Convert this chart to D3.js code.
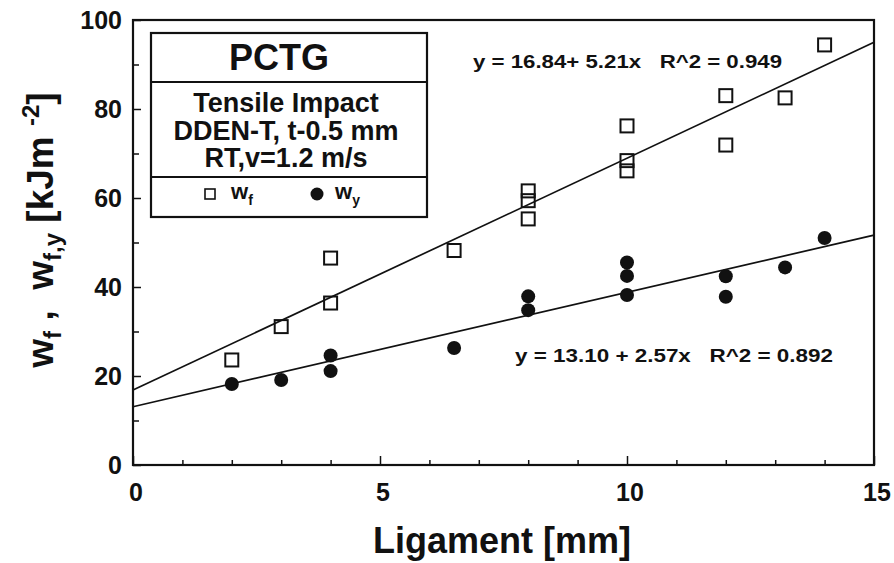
<!DOCTYPE html>
<html>
<head>
<meta charset="utf-8">
<script src="https://cdn.jsdelivr.net/npm/d3@7"></script>
<style>
  body { margin: 0; background: #fff; }
  text { font-family: "Liberation Sans", Arial, sans-serif; font-weight: bold; fill: #111; }
</style>
</head>
<body>
<script>
// data
var ligF = [2, 3, 4, 4, 6.5, 8, 8, 8, 10, 10, 10, 12, 12, 13.2, 14];
var wf = [23.6, 31.1, 46.5, 36.4, 48.2, 61.6, 59.4, 55.3, 76.2, 68.4, 66.1, 83.0, 71.9, 82.5, 94.4];
var ligY = [2, 3, 4, 4, 6.5, 8, 8, 10, 10, 10, 12, 12, 13.2, 14];
var wy = [18.2, 19.1, 24.6, 21.1, 26.3, 37.9, 34.8, 45.5, 42.5, 38.2, 42.4, 37.8, 44.4, 51.0];
var fitF = [16.84, 5.21];
var fitY = [13.10, 2.57];
var xTicks = [0, 5, 10, 15];
var yTicks = [0, 20, 40, 60, 80, 100];
var legendLines = ['Tensile Impact', 'DDEN-T, t-0.5 mm', 'RT,v=1.2 m/s'];

var W = 894, H = 563;
var mLeft = 133, mRight = 874, mTop = 20, mBottom = 465;

var svg = d3.select('body').append('svg')
    .attr('width', W).attr('height', H);
svg.append('rect').attr('width', W).attr('height', H).attr('fill', '#fff');

var x = d3.scaleLinear().domain([0, 15]).range([mLeft, mRight]);
var y = d3.scaleLinear().domain([0, 100]).range([mBottom, mTop]);

// inner ticks
var gx = svg.append('g').attr('transform', `translate(0,${mBottom})`)
    .call(d3.axisTop(x).tickValues(d3.range(0, 16)).tickSize(5).tickFormat(''));
gx.selectAll('.tick line').filter(d => d % 5 === 0).attr('y2', -9);
var gy = svg.append('g').attr('transform', `translate(${mLeft},0)`)
    .call(d3.axisRight(y).tickValues(d3.range(0, 101, 10)).tickSize(6).tickFormat(''));
gy.selectAll('.tick line').filter(d => d % 20 === 0).attr('x2', 8);
svg.selectAll('.domain').remove();
svg.selectAll('.tick line').attr('stroke', '#111').attr('stroke-width', 1.5);

// tick labels
svg.selectAll('.xl').data(xTicks).enter().append('text')
    .attr('x', d => x(d) + 3).attr('y', 501)
    .attr('text-anchor', 'middle').attr('font-size', 25)
    .text(d => d);
svg.selectAll('.yl').data(yTicks).enter().append('text')
    .attr('x', 122).attr('y', d => y(d) + 9)
    .attr('text-anchor', 'end').attr('font-size', 25)
    .text(d => d);

// frame
svg.append('rect').attr('x', mLeft).attr('y', mTop)
    .attr('width', mRight - mLeft).attr('height', mBottom - mTop)
    .attr('fill', 'none').attr('stroke', '#111').attr('stroke-width', 2.2);

// fit lines
[fitF, fitY].forEach(function (f) {
    svg.append('line')
        .attr('x1', x(0)).attr('y1', y(f[0]))
        .attr('x2', x(15)).attr('y2', y(f[0] + f[1] * 15))
        .attr('stroke', '#111').attr('stroke-width', 1.7);
});

// points
svg.selectAll('.sq').data(ligF).enter().append('rect')
    .attr('x', (d, i) => x(d) - 6.5).attr('y', (d, i) => y(wf[i]) - 6.5)
    .attr('width', 13).attr('height', 13)
    .attr('fill', 'none').attr('stroke', '#111').attr('stroke-width', 2);
svg.selectAll('.dot').data(ligY).enter().append('circle')
    .attr('cx', d => x(d)).attr('cy', (d, i) => y(wy[i]))
    .attr('r', 7).attr('fill', '#111');

// equations
svg.append('text').attr('x', 473).attr('y', 68).attr('font-size', 19)
    .attr('textLength', 309).attr('lengthAdjust', 'spacingAndGlyphs')
    .attr('xml:space', 'preserve')
    .text('y = 16.84+ 5.21x   R^2 = 0.949');
svg.append('text').attr('x', 515).attr('y', 362).attr('font-size', 19)
    .attr('textLength', 318).attr('lengthAdjust', 'spacingAndGlyphs')
    .attr('xml:space', 'preserve')
    .text('y = 13.10 + 2.57x   R^2 = 0.892');

// legend box
var lg = svg.append('g');
lg.append('rect').attr('x', 151).attr('y', 33).attr('width', 276).attr('height', 184)
    .attr('fill', '#fff').attr('stroke', '#111').attr('stroke-width', 2.2);
[82, 177].forEach(function (yy) {
    lg.append('line').attr('x1', 151).attr('x2', 427).attr('y1', yy).attr('y2', yy)
        .attr('stroke', '#111').attr('stroke-width', 1.8);
});
lg.append('text').attr('x', 279).attr('y', 70).attr('text-anchor', 'middle')
    .attr('font-size', 36).text('PCTG');
lg.selectAll('.ll').data(legendLines).enter().append('text')
    .attr('x', 286).attr('y', (d, i) => 112 + i * 27.5)
    .attr('text-anchor', 'middle').attr('font-size', 27)
    .text(d => d);
lg.append('rect').attr('x', 205).attr('y', 189).attr('width', 10).attr('height', 10)
    .attr('fill', '#fff').attr('stroke', '#111').attr('stroke-width', 1.6);
lg.append('circle').attr('cx', 317).attr('cy', 194).attr('r', 6.5).attr('fill', '#111');
var t1 = lg.append('text').attr('x', 231).attr('y', 199).attr('font-size', 22);
t1.append('tspan').text('w');
t1.append('tspan').attr('dy', 6).attr('font-size', 14).text('f');
var t2 = lg.append('text').attr('x', 335).attr('y', 199).attr('font-size', 22);
t2.append('tspan').text('w');
t2.append('tspan').attr('dy', 6).attr('font-size', 14).text('y');

// axis titles
svg.append('text').attr('x', 502).attr('y', 553).attr('text-anchor', 'middle')
    .attr('font-size', 36).text('Ligament [mm]');

var yt = svg.append('text')
    .attr('transform', 'translate(53,230) rotate(-90)')
    .attr('text-anchor', 'middle').attr('font-size', 37)
    .attr('xml:space', 'preserve');
yt.append('tspan').text('w');
yt.append('tspan').attr('dy', 8).attr('font-size', 24).text('f');
yt.append('tspan').attr('dy', -8).text(' ,  w');
yt.append('tspan').attr('dy', 8).attr('font-size', 24).text('f,y');
yt.append('tspan').attr('dy', -8).text(' [kJm ');
yt.append('tspan').attr('dy', -14).attr('font-size', 24).text('-2');
yt.append('tspan').attr('dy', 14).text(']');
</script>
</body>
</html>
